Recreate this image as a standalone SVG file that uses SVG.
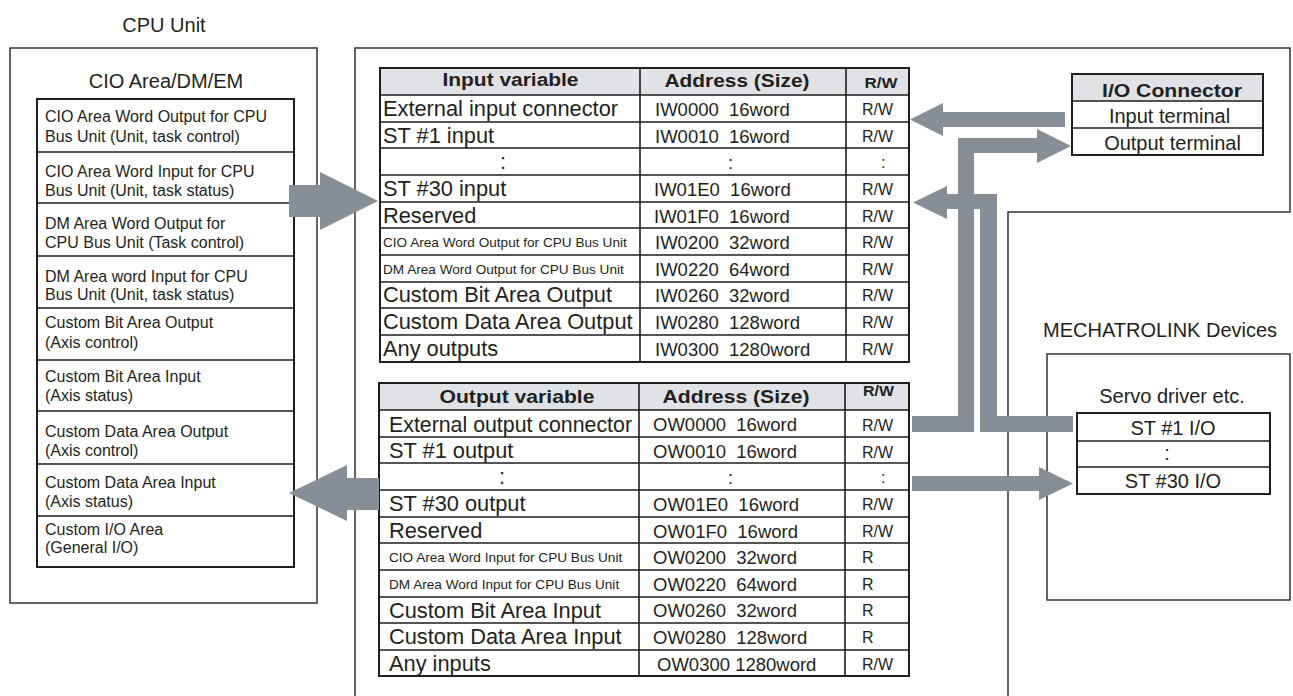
<svg xmlns="http://www.w3.org/2000/svg" width="1293" height="696" viewBox="0 0 1293 696">
<style>
text{font-family:"Liberation Sans",Arial,sans-serif;fill:#231f20}
.box{fill:none;stroke:#333;stroke-width:1.5}
.tbl{fill:#fff;stroke:#1e1e1e;stroke-width:2}
.ln{stroke:#1e1e1e;stroke-width:1.6}
.hdr{fill:#e1e2e6}
.title{font-size:20px}
.cpu{font-size:16px}
.big{font-size:21.8px}
.sm{font-size:13.6px}
.addr{font-size:18.5px}
.rw{font-size:16px}
.hb{font-weight:bold;font-size:18px}
.hrw{font-weight:bold;font-size:15px}
.io{font-size:20px}
.mid{text-anchor:middle}
.arr{fill:#878e95}
</style>
<rect width="1293" height="696" fill="#fff"/>

<g id="cpu-unit">
<text class="title mid" x="164" y="32">CPU Unit</text>
<rect class="box" x="10" y="48" width="307" height="555"/>
<text class="title mid" x="166" y="88">CIO Area/DM/EM</text>
<rect class="tbl" x="37" y="99" width="257" height="468"/>
<path class="ln" d="M37 152H294M37 203H294M37 256H294M37 308H294M37 360H294M37 411H294M37 464H294M37 516H294"/>
<g class="cpu">
<text x="45" y="122">CIO Area Word Output for CPU</text><text x="45" y="142">Bus Unit (Unit, task control)</text>
<text x="45" y="177">CIO Area Word Input for CPU</text><text x="45" y="196">Bus Unit (Unit, task status)</text>
<text x="45" y="229">DM Area Word Output for</text><text x="45" y="248">CPU Bus Unit (Task control)</text>
<text x="45" y="282">DM Area word Input for CPU</text><text x="45" y="300">Bus Unit (Unit, task status)</text>
<text x="45" y="328">Custom Bit Area Output</text><text x="45" y="348">(Axis control)</text>
<text x="45" y="382">Custom Bit Area Input</text><text x="45" y="401">(Axis status)</text>
<text x="45" y="437">Custom Data Area Output</text><text x="45" y="456">(Axis control)</text>
<text x="45" y="488">Custom Data Area Input</text><text x="45" y="507">(Axis status)</text>
<text x="45" y="535">Custom I/O Area</text><text x="45" y="553">(General I/O)</text>
</g>
</g>

<g id="unit-frame">
<path class="box" d="M355 696V48H1290V212H1008V696"/>
</g>

<g id="input-table">
<rect class="tbl" x="380" y="68" width="529" height="294"/>
<rect class="hdr" x="381" y="69" width="527" height="26"/>
<path class="ln" d="M380 95H909M380 122H909M380 148H909M380 175H909M380 202H909M380 228H909M380 255H909M380 282H909M380 308H909M380 335H909M640 68V362M846 68V362"/>
<text class="hb mid" x="510.5" y="86" textLength="136" lengthAdjust="spacingAndGlyphs">Input variable</text>
<text class="hb mid" x="737" y="87" textLength="145" lengthAdjust="spacingAndGlyphs">Address (Size)</text>
<text class="hrw mid" x="881" y="88" textLength="33" lengthAdjust="spacingAndGlyphs">R/W</text>
<g class="big">
<text x="383" y="116">External input connector</text>
<text x="383" y="143">ST #1 input</text>
<text x="500" y="169">:</text>
<text x="383" y="196">ST #30 input</text>
<text x="383" y="223">Reserved</text>
<text x="383" y="302">Custom Bit Area Output</text>
<text x="383" y="329">Custom Data Area Output</text>
<text x="383" y="356">Any outputs</text>
</g>
<text class="sm" x="383" y="247">CIO Area Word Output for CPU Bus Unit</text>
<text class="sm" x="383" y="274">DM Area Word Output for CPU Bus Unit</text>
<g class="addr">
<text x="655" y="116">IW0000&#160; 16word</text>
<text x="655" y="143">IW0010&#160; 16word</text>
<text x="728" y="169">:</text>
<text x="654" y="196">IW01E0&#160; 16word</text>
<text x="654" y="223">IW01F0&#160; 16word</text>
<text x="655" y="249">IW0200&#160; 32word</text>
<text x="655" y="276">IW0220&#160; 64word</text>
<text x="655" y="302">IW0260&#160; 32word</text>
<text x="655" y="329">IW0280&#160; 128word</text>
<text x="655" y="356">IW0300&#160; 1280word</text>
</g>
<g class="rw">
<text x="862" y="115">R/W</text>
<text x="862" y="142">R/W</text>
<text x="881" y="168">:</text>
<text x="862" y="195">R/W</text>
<text x="862" y="222">R/W</text>
<text x="862" y="248">R/W</text>
<text x="862" y="275">R/W</text>
<text x="862" y="301">R/W</text>
<text x="862" y="328">R/W</text>
<text x="862" y="355">R/W</text>
</g>
</g>

<g id="output-table">
<rect class="tbl" x="379" y="383" width="530" height="293"/>
<rect class="hdr" x="380" y="384" width="528" height="26"/>
<path class="ln" d="M379 410H909M379 437H909M379 463H909M379 490H909M379 517H909M379 543H909M379 570H909M379 597H909M379 623H909M379 650H909M639 383V676M845 383V676"/>
<text class="hb mid" x="517" y="403" textLength="155" lengthAdjust="spacingAndGlyphs">Output variable</text>
<text class="hb mid" x="736" y="403" textLength="147" lengthAdjust="spacingAndGlyphs">Address (Size)</text>
<text class="hrw mid" x="878.5" y="396" textLength="31" lengthAdjust="spacingAndGlyphs">R/W</text>
<g class="big">
<text x="389" y="432" textLength="243" lengthAdjust="spacingAndGlyphs">External output connector</text>
<text x="389" y="458">ST #1 output</text>
<text x="499" y="484">:</text>
<text x="389" y="511">ST #30 output</text>
<text x="389" y="538">Reserved</text>
<text x="389" y="618">Custom Bit Area Input</text>
<text x="389" y="644">Custom Data Area Input</text>
<text x="389" y="671">Any inputs</text>
</g>
<text class="sm" x="389" y="562">CIO Area Word Input for CPU Bus Unit</text>
<text class="sm" x="389" y="589">DM Area Word Input for CPU Bus Unit</text>
<g class="addr">
<text x="653" y="431">OW0000&#160; 16word</text>
<text x="653" y="458">OW0010&#160; 16word</text>
<text x="728" y="484">:</text>
<text x="653" y="511">OW01E0&#160; 16word</text>
<text x="653" y="538">OW01F0&#160; 16word</text>
<text x="653" y="564">OW0200&#160; 32word</text>
<text x="653" y="591">OW0220&#160; 64word</text>
<text x="653" y="617">OW0260&#160; 32word</text>
<text x="653" y="644">OW0280&#160; 128word</text>
<text x="657" y="671">OW0300 1280word</text>
</g>
<g class="rw">
<text x="862" y="431">R/W</text>
<text x="862" y="458">R/W</text>
<text x="881" y="483">:</text>
<text x="862" y="510">R/W</text>
<text x="862" y="537">R/W</text>
<text x="862" y="563">R</text>
<text x="862" y="590">R</text>
<text x="862" y="616">R</text>
<text x="862" y="643">R</text>
<text x="862" y="670">R/W</text>
</g>
</g>

<g id="io-connector">
<rect class="tbl" x="1072" y="74" width="191" height="81"/>
<rect class="hdr" x="1073" y="75" width="189" height="26"/>
<path class="ln" d="M1072 101H1263M1072 128H1263"/>
<text class="hb mid" x="1172" y="97" textLength="140" lengthAdjust="spacingAndGlyphs">I/O Connector</text>
<text class="io mid" x="1169.5" y="123">Input terminal</text>
<text class="io mid" x="1172.5" y="150">Output terminal</text>
</g>

<g id="mechatrolink">
<text class="title" x="1043" y="337">MECHATROLINK Devices</text>
<rect class="box" x="1047" y="354" width="243" height="246"/>
<text class="io mid" x="1172" y="403">Servo driver etc.</text>
<rect class="tbl" x="1077" y="413" width="193" height="81"/>
<path class="ln" d="M1077 441H1270M1077 467H1270"/>
<text class="io mid" x="1173" y="435">ST #1 I/O</text>
<text class="io mid" x="1167" y="460">:</text>
<text class="io mid" x="1173" y="488">ST #30 I/O</text>
</g>

<g id="connectors">
<polygon class="arr" points="289,185 320,185 320,172 378,201 320,230 320,217 289,217"/>
<polygon class="arr" points="379,478 347,478 347,465 289,493 347,521 347,510 379,510"/>
<polygon class="arr" points="1065,112 943,112 943,103 910,119.5 943,136 943,127 1065,127"/>
<polygon class="arr" points="912,416 958,416 958,138 1037,138 1037,129 1071,146 1037,163 1037,153 974,153 974,432 912,432"/>
<polygon class="arr" points="1073,416 997,416 997,194 947,194 947,186 913,202.5 947,219 947,209 980,209 980,432 1073,432"/>
<polygon class="arr" points="912,476 1039,476 1039,467 1073,483.5 1039,500 1039,491 912,491"/>
</g>
</svg>
